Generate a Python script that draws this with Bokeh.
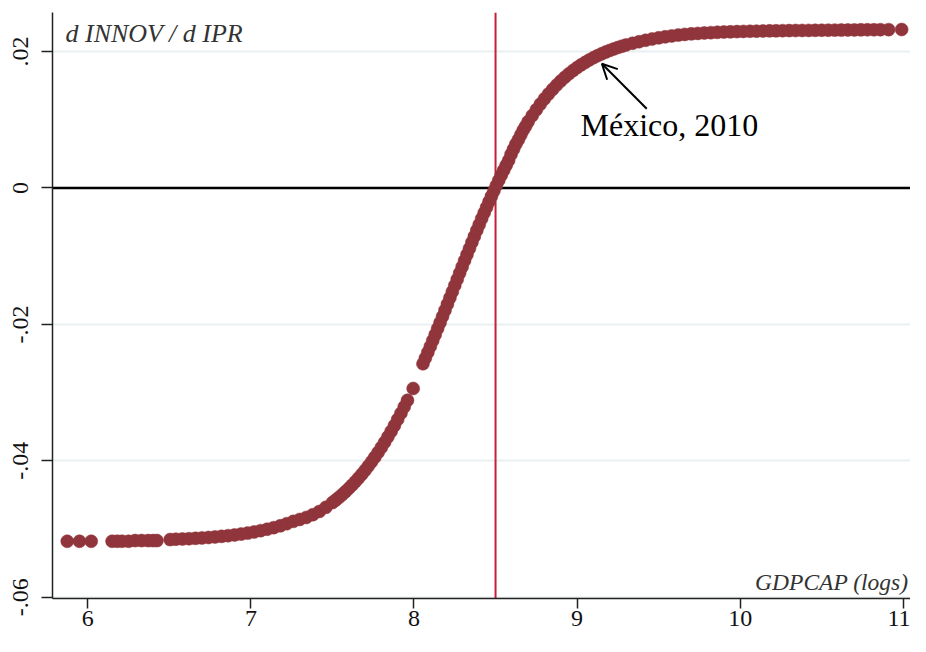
import math
from bokeh.plotting import figure
from bokeh.models import Span, Label, Arrow, OpenHead, FixedTicker, Range1d
from bokeh.embed import file_html
from bokeh.resources import INLINE

# ---- data ----
gdp_left = [5.874, 5.949, 6.021, 6.149, 6.18, 6.21, 6.25, 6.29, 6.33, 6.37, 6.40, 6.424]
dinnov_left = [-0.0518, -0.0518, -0.0518, -0.0518, -0.0518, -0.0518, -0.0518,
               -0.0517, -0.0517, -0.0517, -0.0517, -0.0517]

gdp_low = [6.505, 6.54, 6.58, 6.62, 6.66, 6.70, 6.74, 6.78, 6.82, 6.86, 6.90, 6.94, 6.98,
           7.02, 7.06, 7.10, 7.14, 7.18, 7.22, 7.26, 7.30, 7.34, 7.38, 7.42, 7.46, 7.50,
           7.52, 7.54, 7.56, 7.58, 7.60, 7.62, 7.64, 7.66, 7.68, 7.70, 7.72, 7.74, 7.76,
           7.78, 7.80, 7.82, 7.84, 7.86, 7.88, 7.90, 7.92, 7.94, 7.96, 7.995]
dinnov_low = [-0.05155, -0.0515, -0.05147, -0.05142, -0.05137, -0.05131, -0.05124, -0.05116,
              -0.05108, -0.05098, -0.05087, -0.05074, -0.0506, -0.05043, -0.05024, -0.05003,
              -0.0498, -0.04953, -0.04922, -0.04888, -0.0486, -0.0483, -0.0479, -0.04743,
              -0.04682, -0.04613, -0.04576, -0.04537, -0.04496, -0.04452, -0.04406, -0.04358,
              -0.04307, -0.04254, -0.04198, -0.0414, -0.04078, -0.04014, -0.03947, -0.03877,
              -0.03804, -0.03728, -0.03649, -0.03568, -0.03483, -0.03394, -0.03303, -0.03209,
              -0.03113, -0.0294]

gdp_mid = [8.055, 8.07, 8.085, 8.10, 8.115, 8.13, 8.145, 8.16, 8.175, 8.19, 8.205, 8.22,
           8.235, 8.25, 8.265, 8.28, 8.295, 8.31, 8.325, 8.34, 8.355, 8.37, 8.385, 8.40,
           8.415, 8.43, 8.445, 8.46, 8.475, 8.49, 8.505, 8.52, 8.535, 8.55, 8.565, 8.58,
           8.595, 8.61, 8.625, 8.64, 8.655, 8.67, 8.685, 8.70]
dinnov_mid = [-0.02577, -0.02494, -0.02409, -0.02324, -0.02238, -0.0215, -0.02061, -0.01973,
              -0.01884, -0.01794, -0.01703, -0.01612, -0.01521, -0.0143, -0.01339, -0.01248,
              -0.01157, -0.01066, -0.00976, -0.00887, -0.00798, -0.0071, -0.00622, -0.00536,
              -0.0045, -0.00366, -0.00283, -0.00201, -0.0012, -0.00041, 0.00037, 0.00114,
              0.00188, 0.00261, 0.00333, 0.00403, 0.00492, 0.00569, 0.00644, 0.00708,
              0.00779, 0.00849, 0.00908, 0.00974]

gdp_knee = [8.725, 8.75, 8.775, 8.80, 8.825, 8.85, 8.875, 8.90, 8.925, 8.95, 8.975, 9.00,
            9.025, 9.05, 9.075, 9.10, 9.125, 9.15, 9.175, 9.20, 9.225, 9.25, 9.275, 9.30]
dinnov_knee = [0.01062, 0.01148, 0.0123, 0.01307, 0.01379, 0.01447, 0.0151, 0.01569,
               0.01624, 0.01675, 0.01722, 0.01766, 0.01806, 0.01843, 0.01878, 0.0191,
               0.0194, 0.01967, 0.01993, 0.02017, 0.02039, 0.0206, 0.02079, 0.02097]

gdp_high = [9.34, 9.38, 9.42, 9.46, 9.50, 9.54, 9.58, 9.62, 9.66, 9.70, 9.74, 9.78, 9.82,
            9.86, 9.90, 9.94, 9.98, 10.02, 10.06, 10.10, 10.14, 10.18, 10.22, 10.26, 10.30,
            10.34, 10.38, 10.42, 10.46, 10.50, 10.54, 10.58, 10.62, 10.66, 10.70, 10.74,
            10.78, 10.82, 10.86, 10.91, 10.99]
dinnov_high = [0.02122, 0.02145, 0.02166, 0.02185, 0.02202, 0.02217, 0.0223, 0.02242,
               0.02252, 0.0226, 0.02267, 0.02273, 0.02278, 0.02283, 0.02287, 0.0229,
               0.02293, 0.02296, 0.02298, 0.023, 0.02302, 0.02304, 0.02305, 0.02307,
               0.02308, 0.02309, 0.0231, 0.02311, 0.02312, 0.02313, 0.02314, 0.02315,
               0.02316, 0.02317, 0.02318, 0.02319, 0.0232, 0.0232, 0.02321, 0.02322, 0.02324]

x_ticks = [6, 7, 8, 9, 10, 11]
y_ticks = [-0.06, -0.04, -0.02, 0.0, 0.02]
y_tick_labels = ["-.06", "-.04", "-.02", "0", ".02"]
threshold_gdp = 8.5

gdp = gdp_left + gdp_low + gdp_mid + gdp_knee + gdp_high
dinnov = dinnov_left + dinnov_low + dinnov_mid + dinnov_knee + dinnov_high
assert len(gdp) == len(dinnov)

SERIF = "Liberation Serif"

p = figure(frame_width=858, frame_height=586, output_backend="svg", toolbar_location=None,
           x_range=Range1d(5.7836, 11.0442), y_range=Range1d(-0.060191, 0.025733),
           min_border_left=52, min_border_right=0, min_border_top=12, min_border_bottom=38,
           background_fill_color="white", border_fill_color="white")
p.outline_line_color = None

p.xgrid.visible = False
p.ygrid.ticker = FixedTicker(ticks=y_ticks)
p.ygrid.grid_line_color = "#E9F0F2"
p.ygrid.grid_line_width = 2

p.xaxis.ticker = FixedTicker(ticks=x_ticks)
p.yaxis.ticker = FixedTicker(ticks=y_ticks)
p.yaxis.major_label_overrides = {t: l for t, l in zip(y_ticks, y_tick_labels)}
for ax in (p.xaxis[0], p.yaxis[0]):
    ax.axis_line_color = "#222222"
    ax.axis_line_width = 1.5
    ax.major_tick_line_color = "#222222"
    ax.major_tick_line_width = 1.5
    ax.minor_tick_line_color = None
    ax.major_tick_in = 0
    ax.major_label_text_font = SERIF
    ax.major_label_text_font_size = "24px"
    ax.major_label_text_color = "#111111"
p.xaxis.major_tick_out = 10
p.xaxis.major_label_standoff = 2
p.yaxis.major_tick_out = 11
p.yaxis.major_label_standoff = 13
p.yaxis.major_label_orientation = "parallel"

p.add_layout(Span(location=0, dimension="width", line_color="black", line_width=2.5, level="underlay"))
p.add_layout(Span(location=threshold_gdp, dimension="height", line_color="#C41E3A",
                  line_width=2, level="underlay"))

p.scatter(gdp, dinnov, size=13, fill_color="#90353B", line_color="#90353B", line_width=0.5)

p.add_layout(Label(x=5.8633, y=0.02266, text="d INNOV / d IPR", text_font=SERIF,
                   text_font_style="italic", text_font_size="26px", text_color="#333333",
                   text_baseline="alphabetic"))
p.add_layout(Label(x=11.0319, y=-0.05774, text="GDPCAP (logs)", text_font=SERIF,
                   text_font_style="italic", text_font_size="23.5px", text_color="#333333",
                   text_align="right", text_baseline="alphabetic"))
p.add_layout(Label(x=9.0208, y=0.00926, text="México, 2010", text_font=SERIF,
                   text_font_size="32px", text_color="black", text_baseline="alphabetic"))
p.add_layout(Arrow(end=OpenHead(size=15, line_width=2, line_color="black"),
                   x_start=9.427, y_start=0.01161, x_end=9.152, y_end=0.01821,
                   line_width=2, line_color="black"))

open("out.html", "w").write(file_html(p, INLINE))
